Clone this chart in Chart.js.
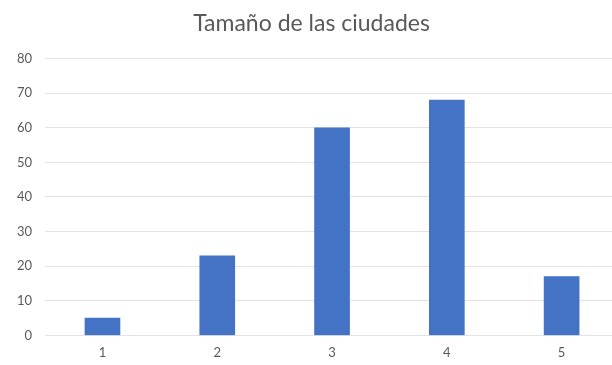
<!DOCTYPE html>
<html>
<head>
<meta charset="utf-8">
<script src="https://cdn.jsdelivr.net/npm/chart.js@4"></script>
<style>
    html, body { margin: 0; padding: 0; background: #fff; overflow: hidden; }
    #wrap { width: 622px; height: 365px; }
</style>
</head>
<body>
<div id="wrap"><canvas id="cityChart" width="622" height="365"></canvas></div>
<script>
// Tamaño de las ciudades
const categories = ['1', '2', '3', '4', '5'];
const cityValues = [5, 23, 60, 68, 17];
const yTicks = [0, 10, 20, 30, 40, 50, 60, 70, 80];

const textColor = '#595959';
const gridColor = '#e3e3e3';
const fontFamily = 'Lato, "Open Sans", sans-serif';

const ctx = document.getElementById('cityChart');
new Chart(ctx, {
    type: 'bar',
    data: {
        labels: categories,
        datasets: [{
            label: 'Tamaño',
            data: cityValues,
            backgroundColor: '#4472C4',
            borderWidth: 0,
            barThickness: 35
        }]
    },
    options: {
        responsive: false,
        animation: false,
        layout: { padding: { left: 4, right: 3, top: 4, bottom: 2 } },
        plugins: {
            legend: { display: false },
            tooltip: { enabled: false },
            title: {
                display: true,
                text: 'Tamaño de las ciudades',
                color: textColor,
                font: { family: fontFamily, size: 23, weight: 'normal' },
                padding: { top: 6, bottom: 21 }
            }
        },
        scales: {
            x: {
                grid: { display: false },
                border: { color: gridColor },
                ticks: {
                    color: textColor,
                    font: { family: fontFamily, size: 13 },
                    padding: 2
                }
            },
            y: {
                min: 0,
                max: 80,
                afterBuildTicks: axis => { axis.ticks = yTicks.map(v => ({ value: v })); },
                grid: { color: gridColor, drawTicks: false },
                border: { display: false },
                ticks: {
                    color: textColor,
                    font: { family: fontFamily, size: 13 },
                    padding: 13
                }
            }
        }
    }
});
</script>
</body>
</html>
